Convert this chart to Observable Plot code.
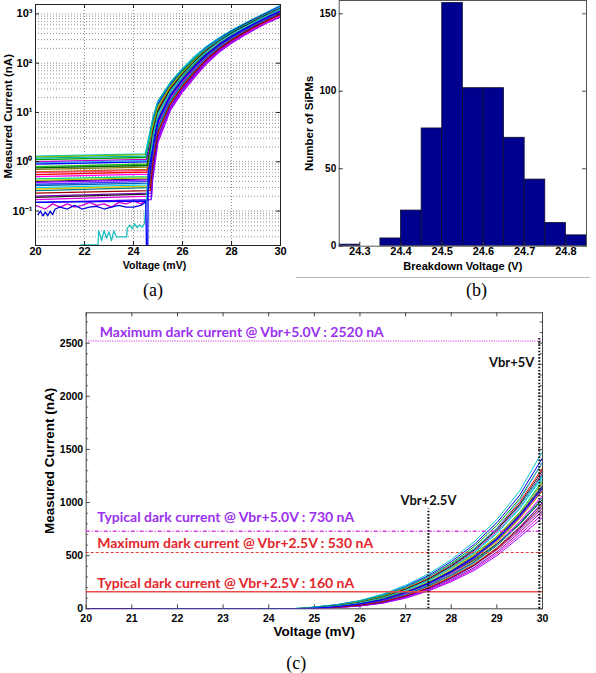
<!DOCTYPE html>
<html><head><meta charset="utf-8">
<script src="https://cdn.jsdelivr.net/npm/d3@7"></script>
<script src="https://cdn.jsdelivr.net/npm/@observablehq/plot@0.6"></script>
<style>
body{margin:0;background:#fff;}
#fig{position:relative;width:596px;height:673px;background:#fff;overflow:hidden;}
#fig svg{position:absolute;}
#rule{position:absolute;left:296px;top:277px;width:294px;height:0;border-top:1px solid #b8b8b8;}
</style></head><body><div id="fig"><div id="rule"></div></div>
<script>
// ---------------- data: I-V curves (panels a and c) ----------------
const curveVoltages = [24.8, 25, 25.5, 26, 26.5, 27, 27.5, 28, 28.5, 29, 29.5, 30];
const curveCurrents = [
  [8, 17, 40, 78, 138, 222, 328, 462, 630, 840, 1110, 1480],
  [6.6, 14.9, 36.5, 72, 129, 210, 313, 444, 605, 810, 1069, 1422],
  [5.6, 13.2, 33.8, 67.6, 121, 200, 300, 428, 585, 785, 1038, 1377],
  [4.6, 11.6, 30.9, 62.6, 113, 189, 286, 411, 562, 757, 1002, 1325],
  [3.8, 10.1, 28.2, 58, 106, 179, 273, 394, 541, 730, 968, 1276],
  [3.2, 9.0, 26.1, 54.3, 99.8, 171, 262, 380, 524, 708, 940, 1236],
  [2.6, 7.9, 23.9, 50.2, 93.3, 161, 251, 365, 504, 682, 908, 1189],
  [2.2, 6.9, 21.8, 46.6, 87.1, 152, 239, 350, 484, 658, 877, 1145],
  [1.8, 6.2, 20.2, 43.6, 82.2, 145, 230, 337, 468, 638, 851, 1109],
  [1.5, 5.4, 18.4, 40.4, 76.8, 137, 219, 324, 450, 615, 822, 1067],
  [1.25, 4.7, 16.8, 37.3, 71.8, 130, 209, 310, 433, 593, 794, 1028],
  [1.06, 4.2, 15.6, 35, 67.6, 124, 201, 300, 419, 575, 771, 995],
  [0.87, 3.7, 14.2, 32.4, 63.2, 117, 192, 288, 403, 555, 745, 957],
  [0.72, 3.2, 13, 30, 59, 111, 183, 276, 387, 535, 719, 922],
  [0.6, 2.8, 12, 28, 55.5, 105.5, 175, 265, 374, 518, 697, 890],
  [0.5, 2.5, 11, 26, 52, 100, 168, 255, 360, 500, 675, 860],
  [2.6, 7.9, 23.9, 52, 100, 175, 275, 400, 560, 760, 1020, 1380],
  [5.6, 13.2, 33.8, 65, 113, 182, 268, 380, 515, 680, 890, 1150],
  [1.25, 4.7, 16.8, 38, 75, 135, 222, 335, 480, 665, 900, 1210],
  [0.87, 3.7, 14.2, 33, 66, 123, 205, 315, 450, 625, 845, 1110],
  [3.8, 10.1, 28.2, 55, 98, 160, 240, 340, 460, 610, 800, 1030],
  [1.8, 6.2, 20.2, 41, 75, 128, 200, 295, 410, 555, 735, 945],
  [8, 17, 40, 76, 130, 205, 300, 420, 565, 745, 975, 1260],
  [0.72, 3.2, 13, 30.5, 61, 116, 192, 290, 410, 565, 765, 1000],
  [2.4, 7.5, 23, 48.5, 91, 158, 247, 360, 498, 672, 895, 1170],
  [1.4, 5.1, 17.8, 39, 74, 134, 214, 318, 442, 604, 808, 1048],
  [4.2, 10.8, 29.5, 60, 109, 184, 279, 402, 552, 744, 985, 1300],
  [1.0, 4.0, 15.0, 34, 66, 121, 196, 294, 411, 565, 758, 976],
  [1.9, 6.5, 20.8, 44.5, 83, 147, 232, 340, 472, 645, 860, 1120],
  [2.3, 7.2, 22.5, 47.5, 89, 155, 243, 355, 492, 665, 885, 1158],
  [3.4, 9.5, 27, 56, 103, 175, 268, 386, 530, 715, 950, 1250],
  [2.0, 6.6, 21.5, 45.5, 85, 150, 236, 346, 480, 652, 870, 1135]
];
// pre-breakdown dark current of the regular curves (nA at 20 V and at the knee)
const darkStart = [1.3, 0.9, 1.1, 0.55, 1.0, 0.3, 0.7, 0.4, 0.8, 0.5, 0.26, 0.62, 0.35, 0.2, 0.17, 0.38, 0.95, 1.25, 0.45, 0.28, 0.75, 0.6, 1.18, 0.15, 0.42, 0.33, 0.19, 0.23];
const darkEnd   = [1.45, 1.0, 1.22, 0.62, 1.12, 0.34, 0.78, 0.45, 0.9, 0.56, 0.3, 0.7, 0.4, 0.23, 0.2, 0.43, 1.06, 1.4, 0.5, 0.32, 0.84, 0.67, 1.3, 0.17, 0.47, 0.37, 0.22, 0.26];
const kneeVoltage = [24.48, 24.52, 24.5, 24.55, 24.56, 24.58, 24.6, 24.6, 24.62, 24.64, 24.66, 24.68, 24.7, 24.72, 24.74, 24.75, 24.58, 24.5, 24.65, 24.7, 24.55, 24.62, 24.5, 24.72, 24.6, 24.62, 24.55, 24.68];
// noisy low-current traces
const magentaTraceV = [20, 20.4, 20.7, 21.0, 21.3, 21.6, 21.9, 22.2, 22.5, 22.8, 23.1, 23.4, 23.7, 24.0, 24.3, 24.55];
const magentaTraceI = [0.13, 0.11, 0.14, 0.12, 0.14, 0.12, 0.13, 0.15, 0.13, 0.14, 0.12, 0.15, 0.14, 0.16, 0.14, 0.17];
const blueTraceV = [20.1, 20.2, 20.3, 20.4, 20.5, 20.6, 20.7, 20.8, 21.0, 21.3, 21.6, 21.9, 22.2, 22.5, 22.8, 23.1, 23.4, 23.7, 24.0, 24.3, 24.55];
const blueTraceI = [0.085, 0.1, 0.08, 0.095, 0.08, 0.1, 0.085, 0.11, 0.12, 0.11, 0.13, 0.11, 0.12, 0.125, 0.11, 0.12, 0.13, 0.12, 0.12, 0.13, 0.16];
const cyanTraceV = [21.6, 21.85, 22.55, 22.58, 22.7, 22.8, 22.9, 23.0, 23.1, 23.2, 23.3, 23.72, 23.75, 23.85, 23.95, 24.05, 24.15, 24.25, 24.35, 24.45, 24.58];
const cyanTraceI = [0.01, 0.0205, 0.0205, 0.04, 0.025, 0.04, 0.028, 0.038, 0.025, 0.04, 0.03, 0.03, 0.045, 0.052, 0.044, 0.055, 0.046, 0.052, 0.047, 0.056, 0.4];
const dropTraceV = [20, 24.5, 24.57, 24.6];
const dropTraceI = [0.15, 0.16, 0.001, 0.6];
const curveColors = ["#00c8c8", "#0000ff", "#00a000", "#ff0000", "#c000c0", "#00d0ff", "#808000", "#000080",
  "#20c020", "#ff00ff", "#008080", "#c06000", "#4040ff", "#8000c0", "#e000e0", "#a000ff",
  "#40a0ff", "#80c000", "#00e080", "#e0c000", "#006000", "#ff4080", "#00b0b0", "#6000ff",
  "#c0c000", "#0060c0", "#202020", "#a00000", "#d000d0", "#0000e0", "#20c0c0", "#0000ff"];

// ---------------- data: histogram (panel b) ----------------
const binStart = [24.25, 24.30, 24.35, 24.40, 24.45, 24.50, 24.55, 24.60, 24.65, 24.70, 24.75, 24.80];
const binEnd   = [24.30, 24.35, 24.40, 24.45, 24.50, 24.55, 24.60, 24.65, 24.70, 24.75, 24.80, 24.85];
const binCounts = [1, 0, 5, 23, 76, 157, 102, 102, 70, 43, 15, 7];

// ---------------- ticks and annotations ----------------
const xTicksA = [20, 22, 24, 26, 28, 30];
const xGridA = [22, 24, 26, 28];
const yTicksA = [0.1, 1, 10, 100, 1000];
const yTickLabelsA = ["10\u207B\u00B9", "10\u2070", "10\u00B9", "10\u00B2", "10\u00B3"];
const xTicksB = [24.3, 24.4, 24.5, 24.6, 24.7, 24.8];
const yTicksB = [0, 50, 100, 150];
const xTicksC = [20, 21, 22, 23, 24, 25, 26, 27, 28, 29, 30];
const yTicksC = [0, 500, 1000, 1500, 2000, 2500];
const yMinorTicksC = [100, 200, 300, 400, 600, 700, 800, 900, 1100, 1200, 1300, 1400, 1600, 1700, 1800, 1900, 2100, 2200, 2300, 2400, 2600, 2700];
const refCurrents = [2520, 730, 530, 160];
const refLabels = ["Maximum dark current @ Vbr+5.0V : 2520 nA", "Typical dark current @ Vbr+5.0V : 730 nA",
  "Maximum dark current @ Vbr+2.5V : 530 nA", "Typical dark current @ Vbr+2.5V : 160 nA"];
const vbrVoltages = [27.5, 29.93];
const vbrTops = [940, 2560];
const vbrLabels = ["Vbr+2.5V", "Vbr+5V"];

// ---------------- build line table ----------------
const specials = [[magentaTraceV, magentaTraceI], [blueTraceV, blueTraceI], [cyanTraceV, cyanTraceI], [dropTraceV, dropTraceI]];
const rows = [];
curveCurrents.forEach((vals, i) => {
  let pre;
  if (i < darkStart.length) pre = [[20, darkStart[i]], [kneeVoltage[i], darkEnd[i]]];
  else { const [V, I] = specials[i - darkStart.length]; pre = V.map((v, k) => [v, I[k]]); }
  pre.concat(curveVoltages.map((v, j) => [v, vals[j]])).forEach(([v, c]) => rows.push({id: i, v, c, col: curveColors[i]}));
});
const bins = binStart.map((s, i) => ({x1: s, x2: binEnd[i], n: binCounts[i]}));

const SANS = "Liberation Sans, Arial, Helvetica, sans-serif";
const SERIF = "Liberation Serif, Times New Roman, serif";
const NOTE = "Lato, Open Sans, sans-serif";
const bold = {fontWeight: "bold", fontFamily: SANS};
const centered = {textAnchor: "middle", lineAnchor: "middle"};
const fig = document.getElementById("fig");

function place(svg, left, top) { svg.style.left = left + "px"; svg.style.top = top + "px"; fig.appendChild(svg); }

// ---------------- panel (a) ----------------
{
  const H = 300, mt = 4, mb = 55, ml = 35, mr = 16, W = 296;
  const fh = H - mt - mb, fw = W - ml - mr;
  const svg = Plot.plot({
    width: W, height: H, marginTop: mt, marginBottom: mb, marginLeft: ml, marginRight: mr,
    x: {domain: [20, 30], label: null}, y: {type: "log", domain: [0.02, 1550], label: null},
    style: {fontFamily: SANS, background: "transparent", overflow: "visible"},
    marks: [
      Plot.gridY({ticks: 40, stroke: "#555", strokeOpacity: 0.8, strokeDasharray: "1,2", strokeWidth: 0.8}),
      Plot.gridX(xGridA, {stroke: "#555", strokeOpacity: 0.8, strokeDasharray: "1,2", strokeWidth: 0.8}),
      Plot.line(rows, {x: "v", y: "c", z: "id", stroke: "col", strokeWidth: 1.3, clip: true}),
      Plot.frame({stroke: "#222"}),
      Plot.tickX(xTicksA, {x: d => d, insetTop: fh - 4, stroke: "#222"}),
      Plot.tickX(xTicksA, {x: d => d, insetBottom: fh - 4, stroke: "#222"}),
      Plot.tickY(yTicksA, {y: d => d, insetRight: fw - 4, stroke: "#222"}),
      Plot.tickY(yTicksA, {y: d => d, insetLeft: fw - 4, stroke: "#222"}),
      Plot.axisX(xTicksA, {tickSize: 0, tickPadding: 1.5, fontSize: 11, label: null, ...bold}),
      Plot.axisY(yTicksA, {tickSize: 0, tickPadding: 3, fontSize: 11, label: null, ...bold, tickFormat: d => yTickLabelsA[yTicksA.indexOf(d)]}),
      Plot.text(["Voltage (mV)"], {frameAnchor: "bottom", dx: -3.5, dy: 20.5, fontSize: 10.5, ...bold, ...centered}),
      Plot.text(["Measured Current (nA)"], {frameAnchor: "left", rotate: -90, dx: -26.7, dy: -8.7, fontSize: 11.5, ...bold, ...centered}),
      Plot.text(["(a)"], {frameAnchor: "bottom", dx: -5, dy: 45, fontSize: 18, fontFamily: SERIF, ...centered})
    ]
  });
  place(svg, 0, 0);
}

// ---------------- panel (b) ----------------
{
  const H = 300, mt = 0, mb = 54.3, ml = 42.7, mr = 10, W = 300;
  const fh = H - mt - mb, fw = W - ml - mr;
  const svg = Plot.plot({
    width: W, height: H, marginTop: mt, marginBottom: mb, marginLeft: ml, marginRight: mr,
    x: {domain: [24.25, 24.85], label: null}, y: {domain: [0, 158.6], label: null},
    style: {fontFamily: SANS, background: "transparent", overflow: "visible"},
    marks: [
      Plot.rectY(bins, {x1: "x1", x2: "x2", y: "n", fill: "#00008f", stroke: "#101030", strokeWidth: 0.8, clip: true}),
      Plot.frame({stroke: "#555"}),
      Plot.tickX(xTicksB, {x: d => d, insetTop: fh - 4, stroke: "#333"}),
      Plot.tickY(yTicksB, {y: d => d, insetRight: fw - 4, stroke: "#333"}),
      Plot.tickY(yTicksB, {y: d => d, insetLeft: fw - 4, stroke: "#555"}),
      Plot.axisX(xTicksB, {tickSize: 0, tickPadding: 1, fontSize: 11, label: null, ...bold}),
      Plot.axisY(yTicksB, {tickSize: 0, tickPadding: 3, fontSize: 10, label: null, ...bold}),
      Plot.text(["Breakdown Voltage (V)"], {frameAnchor: "bottom", dy: 20, fontSize: 11, ...bold, ...centered}),
      Plot.text(["Number of SiPMs"], {frameAnchor: "left", rotate: -90, dx: -29.4, fontSize: 11.5, ...bold, ...centered}),
      Plot.text(["(b)"], {frameAnchor: "bottom", dx: 13.7, dy: 44.3, fontSize: 18, fontFamily: SERIF, ...centered})
    ]
  });
  place(svg, 296, 0);
}

// ---------------- panel (c) ----------------
{
  const H = 373, mt = 12.3, mb = 64.7, ml = 85.7, mr = 54, W = 596;
  const fh = H - mt - mb, fw = W - ml - mr;
  const purple = "#9b30f0", red = "#e3262d";
  const note = {fontFamily: NOTE, fontWeight: "bold", fontSize: 14, frameAnchor: "left", textAnchor: "start", lineAnchor: "middle", text: d => refLabels[d], y: d => refCurrents[d]};
  const vbrNote = {x: d => vbrVoltages[d], y: d => vbrTops[d], text: d => vbrLabels[d], lineAnchor: "middle", fontFamily: NOTE, fontWeight: "bold", fontSize: 13, fill: "#111"};
  const svg = Plot.plot({
    width: W, height: H, marginTop: mt, marginBottom: mb, marginLeft: ml, marginRight: mr,
    x: {domain: [20, 30], label: null}, y: {domain: [0, 2786], label: null},
    style: {fontFamily: SANS, background: "transparent", overflow: "visible"},
    marks: [
      Plot.frame({stroke: "#444"}),
      Plot.tickX(xTicksC, {x: d => d, insetTop: fh - 4, stroke: "#444"}),
      Plot.tickX(xTicksC, {x: d => d, insetBottom: fh - 4, stroke: "#444"}),
      Plot.tickY(yTicksC, {y: d => d, insetRight: fw - 4, stroke: "#444"}),
      Plot.tickY(yTicksC, {y: d => d, insetLeft: fw - 4, stroke: "#444"}),
      Plot.tickY(yMinorTicksC, {y: d => d, insetRight: fw - 2.5, stroke: "#666"}),
      Plot.tickY(yMinorTicksC, {y: d => d, insetLeft: fw - 2.5, stroke: "#666"}),
      Plot.line(rows, {x: "v", y: "c", z: "id", stroke: "col", strokeWidth: 1, clip: true}),
      Plot.ruleY([refCurrents[0]], {stroke: "#e87ae8", strokeWidth: 1.6, strokeDasharray: "1.2,1.2"}),
      Plot.ruleY([refCurrents[1]], {stroke: "#e040e8", strokeWidth: 1.4, strokeDasharray: "4,2,1,2"}),
      Plot.ruleY([refCurrents[2]], {stroke: "#e83a3a", strokeWidth: 1.2, strokeDasharray: "3,2"}),
      Plot.ruleY([refCurrents[3]], {stroke: "#ee4a4a", strokeWidth: 1.4}),
      Plot.ruleX([0, 1], {x: d => vbrVoltages[d], y1: 0, y2: d => vbrTops[d], stroke: "#111", strokeWidth: 2, strokeDasharray: "1.6,1.6"}),
      Plot.text([0], {...note, fill: purple, dx: 13.6, dy: -9}),
      Plot.text([1], {...note, fill: purple, dx: 11, dy: -14}),
      Plot.text([2], {...note, fill: red, dx: 11, dy: -9}),
      Plot.text([3], {...note, fill: red, dx: 11, dy: -8}),
      Plot.text([0], {...vbrNote, dy: -8, textAnchor: "middle"}),
      Plot.text([1], {...vbrNote, dx: -5, dy: 26, textAnchor: "end"}),
      Plot.axisX(xTicksC, {tickSize: 0, tickPadding: 6, fontSize: 10.5, label: null, ...bold}),
      Plot.axisY(yTicksC, {tickSize: 0, tickPadding: 3, fontSize: 10.5, label: null, tickFormat: "d", ...bold}),
      Plot.text(["Voltage (mV)"], {frameAnchor: "bottom", dy: 22.5, fontSize: 13.5, ...bold, ...centered}),
      Plot.text(["Measured Current (nA)"], {frameAnchor: "left", rotate: -90, dx: -36.8, fontSize: 13.5, ...bold, ...centered}),
      Plot.text(["(c)"], {frameAnchor: "bottom", dx: -18, dy: 54.7, fontSize: 18, fontFamily: SERIF, ...centered})
    ]
  });
  place(svg, 0, 300);
}
</script></body></html>
